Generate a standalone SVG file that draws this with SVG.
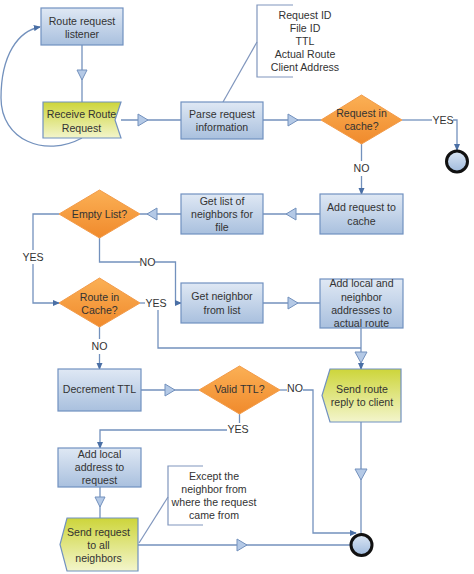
<svg xmlns="http://www.w3.org/2000/svg" width="474" height="574" viewBox="0 0 474 574">
<defs>
<linearGradient id="gBlue" x1="0" y1="0" x2="0" y2="1"><stop offset="0" stop-color="#dfe8f4"/><stop offset="1" stop-color="#a9c0de"/></linearGradient>
<linearGradient id="gYel" x1="0" y1="0" x2="0" y2="1"><stop offset="0" stop-color="#cdd53a"/><stop offset="1" stop-color="#f3f5cc"/></linearGradient>
<linearGradient id="gOr" x1="0" y1="0" x2="0" y2="1"><stop offset="0" stop-color="#fbb055"/><stop offset="1" stop-color="#f08a2c"/></linearGradient>
<linearGradient id="gEnd" x1="0" y1="0" x2="0" y2="1"><stop offset="0" stop-color="#dbe6f4"/><stop offset="1" stop-color="#9fbadd"/></linearGradient>
<marker id="arr" viewBox="0 0 8 8" refX="7" refY="4" markerWidth="7" markerHeight="7" orient="auto" markerUnits="userSpaceOnUse"><path d="M0,0.5 L8,4 L0,7.5 Z" fill="#4a6fa5"/></marker>
<style>
.box{fill:url(#gBlue);stroke:#7191c0;stroke-width:1.2}
.yel{fill:url(#gYel);stroke:#7191c0;stroke-width:1.2}
.dia{fill:url(#gOr);stroke:#f29b4a;stroke-width:1}
.end{fill:url(#gEnd);stroke:#111;stroke-width:3}
.ln{fill:none;stroke:#7391bd;stroke-width:1.3}
.ar{marker-end:url(#arr)}
.tri{fill:#b4c9e6;stroke:#7391bd;stroke-width:1}
.br{fill:none;stroke:#8096bd;stroke-width:1.2}
text{font-family:"Liberation Sans",Arial,sans-serif;font-size:10.6px;fill:#333;text-anchor:middle}
</style>
</defs>
<rect width="474" height="574" fill="#fff"/>

<g id="connectors">
<path class="ln" d="M82,45 V102"/>
<polygon class="tri" points="77,70 87,70 82,80"/>
<path class="ln ar" d="M82,138 C45,158 1,140 1,98 C1,55 18,31 40,27"/>
<path class="ln" d="M121,120 H181"/>
<polygon class="tri" points="138,114 148,120 138,126"/>
<path class="ln" d="M263,120 H321"/>
<polygon class="tri" points="288,114 298,120 288,126"/>
<path class="ln" d="M402,120 H432"/>
<path class="ln ar" d="M453,120 H457 V150"/>
<path class="ln" d="M361.5,144 V161"/>
<path class="ln ar" d="M361.5,176 V194"/>
<path class="ln" d="M320,214 H263"/>
<polygon class="tri" points="296,208 286,214 296,220"/>
<path class="ln" d="M181,214 H140"/>
<polygon class="tri" points="157,208 147,214 157,220"/>
<path class="ln" d="M59,214 H33 V250"/>
<path class="ln ar" d="M33,264 V303 H59"/>
<path class="ln" d="M99.5,238 V262 H140"/>
<path class="ln ar" d="M155,262 H175.5 V303 H181"/>
<path class="ln" d="M140,303 H145"/>
<path class="ln" d="M158,310 V348 H361"/>
<path class="ln" d="M263,303 H320"/>
<polygon class="tri" points="288,297 298,303 288,309"/>
<path class="ln ar" d="M361,328 V369"/>
<polygon class="tri" points="355,352 367,352 361,363"/>
<path class="ln" d="M99.5,327 V339"/>
<path class="ln ar" d="M99.5,354 V369"/>
<path class="ln" d="M141,390 H199"/>
<polygon class="tri" points="165,384 175,390 165,396"/>
<path class="ln" d="M280,390 H287"/>
<path class="ln ar" d="M303,390 H313 V533 H356"/>
<path class="ln" d="M361,422 V534"/>
<polygon class="tri" points="355,469 367,469 361,480"/>
<path class="ln" d="M239.5,414 V423"/>
<path class="ln ar" d="M227,430 H100 V448"/>
<path class="ln" d="M100,487 V518"/>
<polygon class="tri" points="95,497 105,497 100,507"/>
<path class="ln" d="M138,545 H350"/>
<polygon class="tri" points="237,539 247,545 237,551"/>
<path class="br" d="M293,5 H257 V77 H293"/>
<path class="br" d="M257,42 L223,102"/>
<path class="br" d="M203,466 H168 V525 H203"/>
<path class="br" d="M168,497 L139,543"/>
<text x="443" y="124">YES</text>
<text x="361.5" y="172">NO</text>
<text x="33" y="261">YES</text>
<text x="147.5" y="266">NO</text>
<text x="156" y="307">YES</text>
<text x="99.5" y="350">NO</text>
<text x="295" y="392">NO</text>
<text x="238" y="433">YES</text>
</g>

<g id="listener"><rect class="box" x="41" y="8" width="82" height="37"/><text x="82" y="25">Route request</text><text x="82" y="38">listener</text></g>
<g id="receive"><polygon class="yel" points="43,102 121,102 115,120 121,138 43,138"/><text x="81.5" y="118">Receive Route</text><text x="81.5" y="132">Request</text></g>
<g id="parse"><rect class="box" x="181" y="102" width="82" height="37"/><text x="222" y="118">Parse request</text><text x="222" y="131">information</text></g>
<g id="note1"><text x="305" y="19">Request ID</text><text x="305" y="32">File ID</text><text x="305" y="45">TTL</text><text x="305" y="58">Actual Route</text><text x="305" y="71">Client Address</text></g>
<g id="inCache"><polygon class="dia" points="321,120 361.5,95 402,120 361.5,144"/><text x="361.5" y="117">Request in</text><text x="361.5" y="130">cache?</text></g>
<g id="end1"><circle class="end" cx="457" cy="161.5" r="10.5"/></g>
<g id="addCache"><rect class="box" x="320" y="194" width="83" height="40"/><text x="361.5" y="211">Add request to</text><text x="361.5" y="225">cache</text></g>
<g id="getList"><rect class="box" x="181" y="194" width="82" height="40"/><text x="222" y="205">Get list of</text><text x="222" y="218">neighbors for</text><text x="222" y="231">file</text></g>
<g id="emptyList"><polygon class="dia" points="59,214 99.5,190 140,214 99.5,238"/><text x="99.5" y="218">Empty List?</text></g>
<g id="routeCache"><polygon class="dia" points="59,303 99.5,278 140,303 99.5,327"/><text x="99.5" y="301">Route in</text><text x="99.5" y="314">Cache?</text></g>
<g id="getNeighbor"><rect class="box" x="181" y="283" width="82" height="40"/><text x="222" y="300">Get neighbor</text><text x="222" y="314">from list</text></g>
<g id="addLocalRoute"><rect class="box" x="320" y="279" width="83" height="49"/><text x="361.5" y="287">Add local and</text><text x="361.5" y="301">neighbor</text><text x="361.5" y="314">addresses to</text><text x="361.5" y="327">actual route</text></g>
<g id="decTTL"><rect class="box" x="58" y="369" width="83" height="42"/><text x="99.5" y="393">Decrement TTL</text></g>
<g id="validTTL"><polygon class="dia" points="199,390 239.5,366 280,390 239.5,414"/><text x="239.5" y="393">Valid TTL?</text></g>
<g id="sendReply"><polygon class="yel" points="330,369 401,369 401,422 330,422 322,395.5"/><text x="362" y="393">Send route</text><text x="362" y="406">reply to client</text></g>
<g id="addLocalAddr"><rect class="box" x="58" y="448" width="83" height="39"/><text x="99.5" y="458">Add local</text><text x="99.5" y="471">address to</text><text x="99.5" y="484">request</text></g>
<g id="sendRequest"><polygon class="yel" points="67,518 138,518 138,571 67,571 60,544.5"/><text x="98.5" y="536">Send request</text><text x="98.5" y="549">to all</text><text x="98.5" y="562">neighbors</text></g>
<g id="note2"><text x="214" y="480">Except the</text><text x="214" y="493">neighbor from</text><text x="214" y="506">where the request</text><text x="214" y="519">came from</text></g>
<g id="end2"><circle class="end" cx="361.5" cy="545" r="10.5"/></g>
</svg>
